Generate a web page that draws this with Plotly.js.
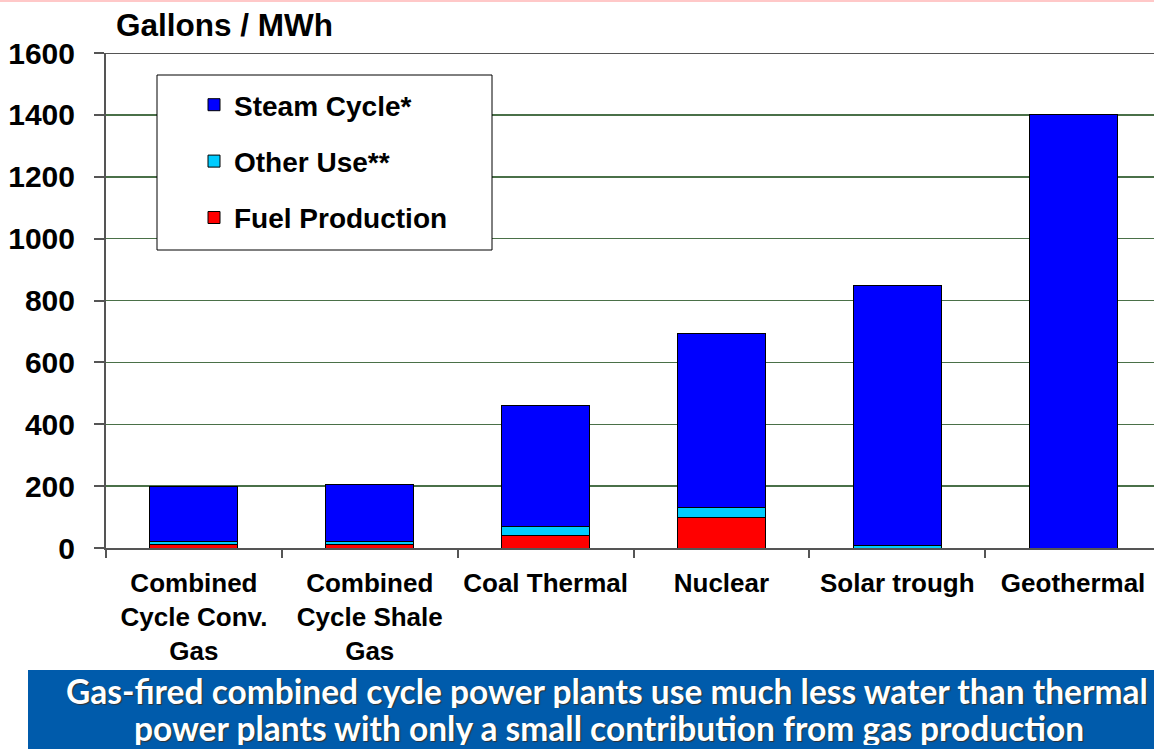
<!DOCTYPE html>
<html>
<head>
<meta charset="utf-8">
<script src="https://cdn.plot.ly/plotly-3.0.1.min.js"></script>
<style>html,body{margin:0;padding:0;background:#fff;}#chart{width:1154px;height:749px;}</style>
</head>
<body>
<div id="chart"></div>
<script>
const categories = ["Combined<br>Cycle Conv.<br>Gas", "Combined<br>Cycle Shale<br>Gas", "Coal Thermal", "Nuclear", "Solar trough", "Geothermal"];
const fuelProduction = [12, 12, 39, 100, 0, 0];
const otherUse = [10, 10, 30, 30, 8, 0];
const steamCycle = [178, 183, 393, 562, 840, 1400];
const yTicks = [0, 200, 400, 600, 800, 1000, 1200, 1400, 1600];
const bannerLines = ["Gas-fired combined cycle power plants use much less water than thermal", "power plants with only a small contribution from gas production"];

const W = 1154, H = 749;
const L = 106, R = 0, T = 53, B = 201;
const pw = W - L - R, ph = H - T - B;
const px = x => (x - L) / pw;          // pixel -> paper x
const py = y => (H - B - y) / ph;      // pixel -> paper y

const AR = "Liberation Sans, Arial, sans-serif";
const line = {color: "#000", width: 1};

const traces = [
  {type: "bar", name: "Fuel Production", x: categories, y: fuelProduction, marker: {color: "#ff0000", line: line}, legendgroup: "f", legendrank: 3},
  {type: "bar", name: "Other Use**", x: categories, y: otherUse, marker: {color: "#00ccff", line: line}, legendgroup: "o", legendrank: 2},
  {type: "bar", name: "Steam Cycle*", x: categories, y: steamCycle, marker: {color: "#0000ff", line: line}, legendgroup: "s", legendrank: 1}
];

const layout = {
  width: W, height: H,
  margin: {l: L, r: R, t: T, b: B, pad: 0},
  paper_bgcolor: "#fff", plot_bgcolor: "#fff",
  barmode: "stack", bargap: 0.5,
  font: {family: AR, color: "#000"},
  showlegend: true,
  legend: {
    x: px(194), y: py(80), xanchor: "left", yanchor: "top",
    bgcolor: "rgba(0,0,0,0)", borderwidth: 0,
    traceorder: "grouped", tracegroupgap: 17,
    font: {family: AR, size: 28, weight: "bold", color: "#000"}
  },
  xaxis: {
    type: "category", range: [-0.5, 5.46], fixedrange: true,
    tickson: "boundaries", ticks: "outside", ticklen: 8, tickcolor: "#555", tickwidth: 2,
    showline: true, linecolor: "#555", linewidth: 2,
    showgrid: false, tickangle: 0,
    tickfont: {family: AR, size: 26, weight: "bold", color: "#000"},
    ticklabelstandoff: 11
  },
  yaxis: {
    range: [0, 1600], tickvals: yTicks, ticktext: yTicks.map(String),
    ticks: "outside", ticklen: 10, tickcolor: "#555", tickwidth: 2,
    showline: true, linecolor: "#555", linewidth: 2,
    showgrid: true, gridcolor: "#4a7048", gridwidth: 1.5,
    zeroline: false,
    tickfont: {family: AR, size: 30, weight: "bold", color: "#000"},
    ticklabelstandoff: 13,
    title: {text: ""}
  },
  shapes: [
    {type: "line", xref: "paper", yref: "y", x0: 0, x1: 1, y0: 1600, y1: 1600, line: {color: "#555", width: 2}, layer: "above"},
    {type: "rect", xref: "paper", yref: "paper", x0: px(157), x1: px(492), y0: py(250), y1: py(75), fillcolor: "#fff", line: {color: "#000", width: 1}, layer: "above"},
    {type: "rect", xref: "paper", yref: "paper", x0: px(28), x1: px(1160), y0: py(760), y1: py(670), fillcolor: "#005bab", line: {width: 0}, layer: "above"},
    {type: "line", xref: "paper", yref: "paper", x0: px(0), x1: px(1160), y0: py(1), y1: py(1), line: {color: "#ffc8c8", width: 2}, layer: "above"}
  ],
  annotations: [
    {xref: "paper", yref: "paper", x: px(114), y: py(25), xanchor: "left", yanchor: "middle", showarrow: false,
     text: "Gallons / MWh", font: {family: AR, size: 31.5, weight: "bold", color: "#000"}},
    {xref: "paper", yref: "paper", x: px(607), y: py(691), xanchor: "center", yanchor: "middle", showarrow: false, height: 34,
     text: bannerLines[0], font: {family: "Lato, Open Sans, sans-serif", size: 33.5, weight: "bold", color: "#fff", shadow: "1px 1px 1px #333"}},
    {xref: "paper", yref: "paper", x: px(609), y: py(728), xanchor: "center", yanchor: "middle", showarrow: false, height: 34,
     text: bannerLines[1], font: {family: "Lato, Open Sans, sans-serif", size: 33.5, weight: "bold", color: "#fff", shadow: "1px 1px 1px #333"}}
  ]
};

Plotly.newPlot("chart", traces, layout, {displayModeBar: false, staticPlot: true});
</script>
</body>
</html>
